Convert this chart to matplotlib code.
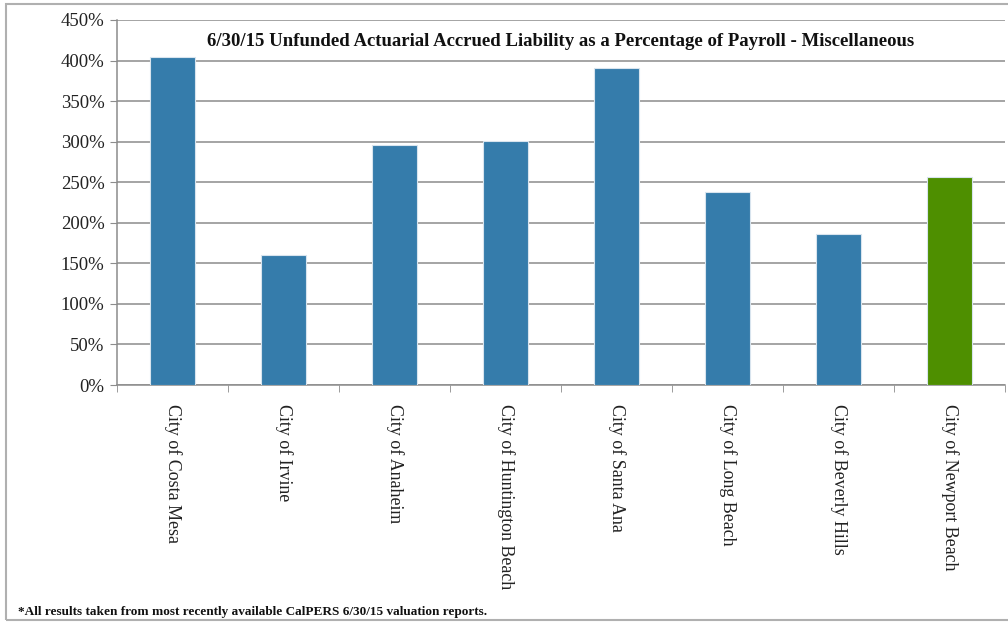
import matplotlib.pyplot as plt
from matplotlib.patches import Rectangle
from matplotlib.ticker import FixedLocator

cities = ["City of Costa Mesa", "City of Irvine", "City of Anaheim",
          "City of Huntington Beach", "City of Santa Ana", "City of Long Beach",
          "City of Beverly Hills", "City of Newport Beach"]
pct = [404, 160, 296, 301, 391, 238, 186, 256]
colors = ["#357cab"] * 7 + ["#4e8f00"]

plt.rcParams["font.family"] = ["Liberation Serif", "DejaVu Serif"]

fig = plt.figure(figsize=(10.08, 6.26), dpi=100)
ax = fig.add_axes([117 / 1008, 1 - 385 / 626, 888 / 1008, 365 / 626])

x = range(len(cities))
ax.bar(x, pct, width=0.4, color=colors, edgecolor="#d8e4ee", linewidth=0.8, zorder=3)

ax.set_xlim(-0.5, len(cities) - 0.5)
ax.set_ylim(0, 450)
ax.set_yticks(range(0, 451, 50))
ax.set_yticklabels([f"{v}%" for v in range(0, 451, 50)], fontsize=13.5, color="#222222")
ax.yaxis.grid(True, color="#8c8c8c", linewidth=1.1, zorder=0)

ax.set_xticks(list(x))
ax.set_xticklabels(cities, rotation=270, fontsize=12.9, color="#222222", va="top", ha="center")
ax.xaxis.set_minor_locator(FixedLocator([i + 0.5 for i in range(-1, len(cities))]))
ax.tick_params(axis="x", which="major", length=0, pad=14)
ax.tick_params(axis="x", which="minor", length=5, color="#8c8c8c")
ax.tick_params(axis="y", length=5, color="#8c8c8c", pad=4)

for s in ["top", "right"]:
    ax.spines[s].set_visible(False)
for s in ["left", "bottom"]:
    ax.spines[s].set_color("#8c8c8c")
    ax.spines[s].set_linewidth(1.1)

ax.text(0.5, 0.94, "6/30/15 Unfunded Actuarial Accrued Liability as a Percentage of Payroll - Miscellaneous",
        transform=ax.transAxes, ha="center", va="center", fontsize=13.5, fontweight="bold", color="#111111")

fig.text(18 / 1008, 1 - 612 / 626, "*All results taken from most recently available CalPERS 6/30/15 valuation reports.",
         fontsize=9.5, fontweight="bold", va="center", ha="left", color="#111111")

fig.patches.append(Rectangle((6 / 1008, 6 / 626), 1, 1 - 10 / 626, transform=fig.transFigure,
                             fill=False, edgecolor="#b0b0b0", linewidth=1.5))

fig.savefig("out.png", dpi=100)
